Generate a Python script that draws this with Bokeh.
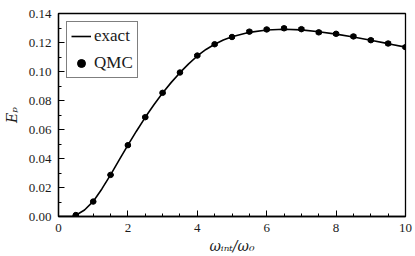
import numpy as np
from bokeh.plotting import figure
from bokeh.models import Range1d, Legend, LegendItem, ColumnDataSource, PrintfTickFormatter, FixedTicker
from bokeh.embed import file_html
from bokeh.resources import INLINE

# QMC data
qmc_x = [0.5, 1.0, 1.5, 2.0, 2.5, 3.0, 3.5, 4.0, 4.5, 5.0, 5.5, 6.0, 6.5, 7.0, 7.5, 8.0, 8.5, 9.0, 9.5, 10.0]
qmc_y = [0.0010, 0.0103, 0.0287, 0.0492, 0.0685, 0.0853, 0.0993, 0.1110, 0.1188, 0.1238,
         0.1275, 0.1290, 0.1298, 0.1292, 0.1270, 0.1260, 0.1242, 0.1216, 0.1193, 0.1168]
qmc_err = [0.0003, 0.0004, 0.0004, 0.0005, 0.0005, 0.0005, 0.0006, 0.0006, 0.0007, 0.0007,
           0.0008, 0.0008, 0.0009, 0.0009, 0.0009, 0.0009, 0.0009, 0.0009, 0.0009, 0.0009]

# exact curve
exact_x = [0.0, 0.25, 0.4, 0.5, 0.75, 1.0, 1.25, 1.5, 1.75, 2.0, 2.25, 2.5, 2.75, 3.0, 3.25, 3.5,
           3.75, 4.0, 4.25, 4.5, 4.75, 5.0, 5.5, 6.0, 6.5, 7.0, 7.5, 8.0, 8.5, 9.0, 9.5, 10.0]
exact_y = [0.0, 0.0, 0.0002, 0.0009, 0.0045, 0.0104, 0.0190, 0.0287, 0.0390, 0.0492, 0.0590, 0.0684,
           0.0771, 0.0852, 0.0925, 0.0992, 0.1053, 0.1107, 0.1152, 0.1188, 0.1217, 0.1239, 0.1270,
           0.1286, 0.1291, 0.1287, 0.1274, 0.1258, 0.1238, 0.1215, 0.1192, 0.1168]

x_ticks = [0, 2, 4, 6, 8, 10]
x_minor = [0.5 * i for i in range(21)]
y_ticks = [0.00, 0.02, 0.04, 0.06, 0.08, 0.10, 0.12, 0.14]
y_minor = [0.01 * i for i in range(15)]

FONT = "'Liberation Serif', 'DejaVu Serif', serif"
LABEL_FONT = "'DejaVu Serif', serif"
INK = "#1a1a1a"

p = figure(width=415, height=256, output_backend="svg", toolbar_location=None,
           x_range=Range1d(0, 10), y_range=Range1d(0, 0.14),
           min_border_left=52, min_border_right=10, min_border_top=13, min_border_bottom=37)
p.grid.visible = False
p.outline_line_color = "black"
p.outline_line_width = 1.3
p.background_fill_color = "white"

for ax in (p.xaxis[0], p.yaxis[0]):
    ax.axis_line_color = "black"
    ax.axis_line_width = 1.3
    ax.major_tick_in = 6
    ax.major_tick_out = 0
    ax.minor_tick_in = 3
    ax.minor_tick_out = 0
    ax.major_tick_line_color = "black"
    ax.minor_tick_line_color = "black"
    ax.major_label_text_font = FONT
    ax.major_label_text_font_size = "13px"
    ax.major_label_text_color = INK
    ax.axis_label_text_font = LABEL_FONT
    ax.axis_label_text_font_size = "14px"
    ax.axis_label_text_font_style = "italic"
    ax.axis_label_text_color = INK

p.xaxis[0].ticker = FixedTicker(ticks=x_ticks, minor_ticks=x_minor)
p.yaxis[0].ticker = FixedTicker(ticks=y_ticks, minor_ticks=y_minor)
p.yaxis[0].formatter = PrintfTickFormatter(format="%.2f")
p.xaxis[0].axis_label = "ωᵢₙₜ/ω₀"
p.yaxis[0].axis_label = "Eₚ"
p.xaxis[0].major_label_standoff = 7
p.xaxis[0].axis_label_standoff = 3
p.yaxis[0].major_label_standoff = 7
p.yaxis[0].axis_label_standoff = 6

line_r = p.line(exact_x, exact_y, line_color="black", line_width=1.6)

src = ColumnDataSource(dict(
    x=qmc_x, y=qmc_y,
    lo=[y - e for y, e in zip(qmc_y, qmc_err)],
    hi=[y + e for y, e in zip(qmc_y, qmc_err)],
))
p.segment(x0="x", y0="lo", x1="x", y1="hi", source=src, line_color="black", line_width=1.2)
p.scatter(x="x", y="lo", source=src, marker="dash", size=6, line_color="black", line_width=1.2)
p.scatter(x="x", y="hi", source=src, marker="dash", size=6, line_color="black", line_width=1.2)
dots = p.scatter(x="x", y="y", source=src, marker="circle", size=5.5, fill_color="black", line_color="black")

legend = Legend(items=[LegendItem(label="exact", renderers=[line_r]),
                       LegendItem(label="QMC", renderers=[dots])],
                location="top_left")
legend.label_text_font = FONT
legend.label_text_font_size = "17px"
legend.label_text_color = INK
legend.border_line_color = "black"
legend.border_line_width = 1.3
legend.margin = 8
legend.padding = 4
legend.spacing = 7
legend.glyph_width = 20
legend.glyph_height = 20
legend.label_standoff = 3
legend.label_height = 20
p.add_layout(legend)

open("out.html", "w").write(file_html(p, INLINE))
